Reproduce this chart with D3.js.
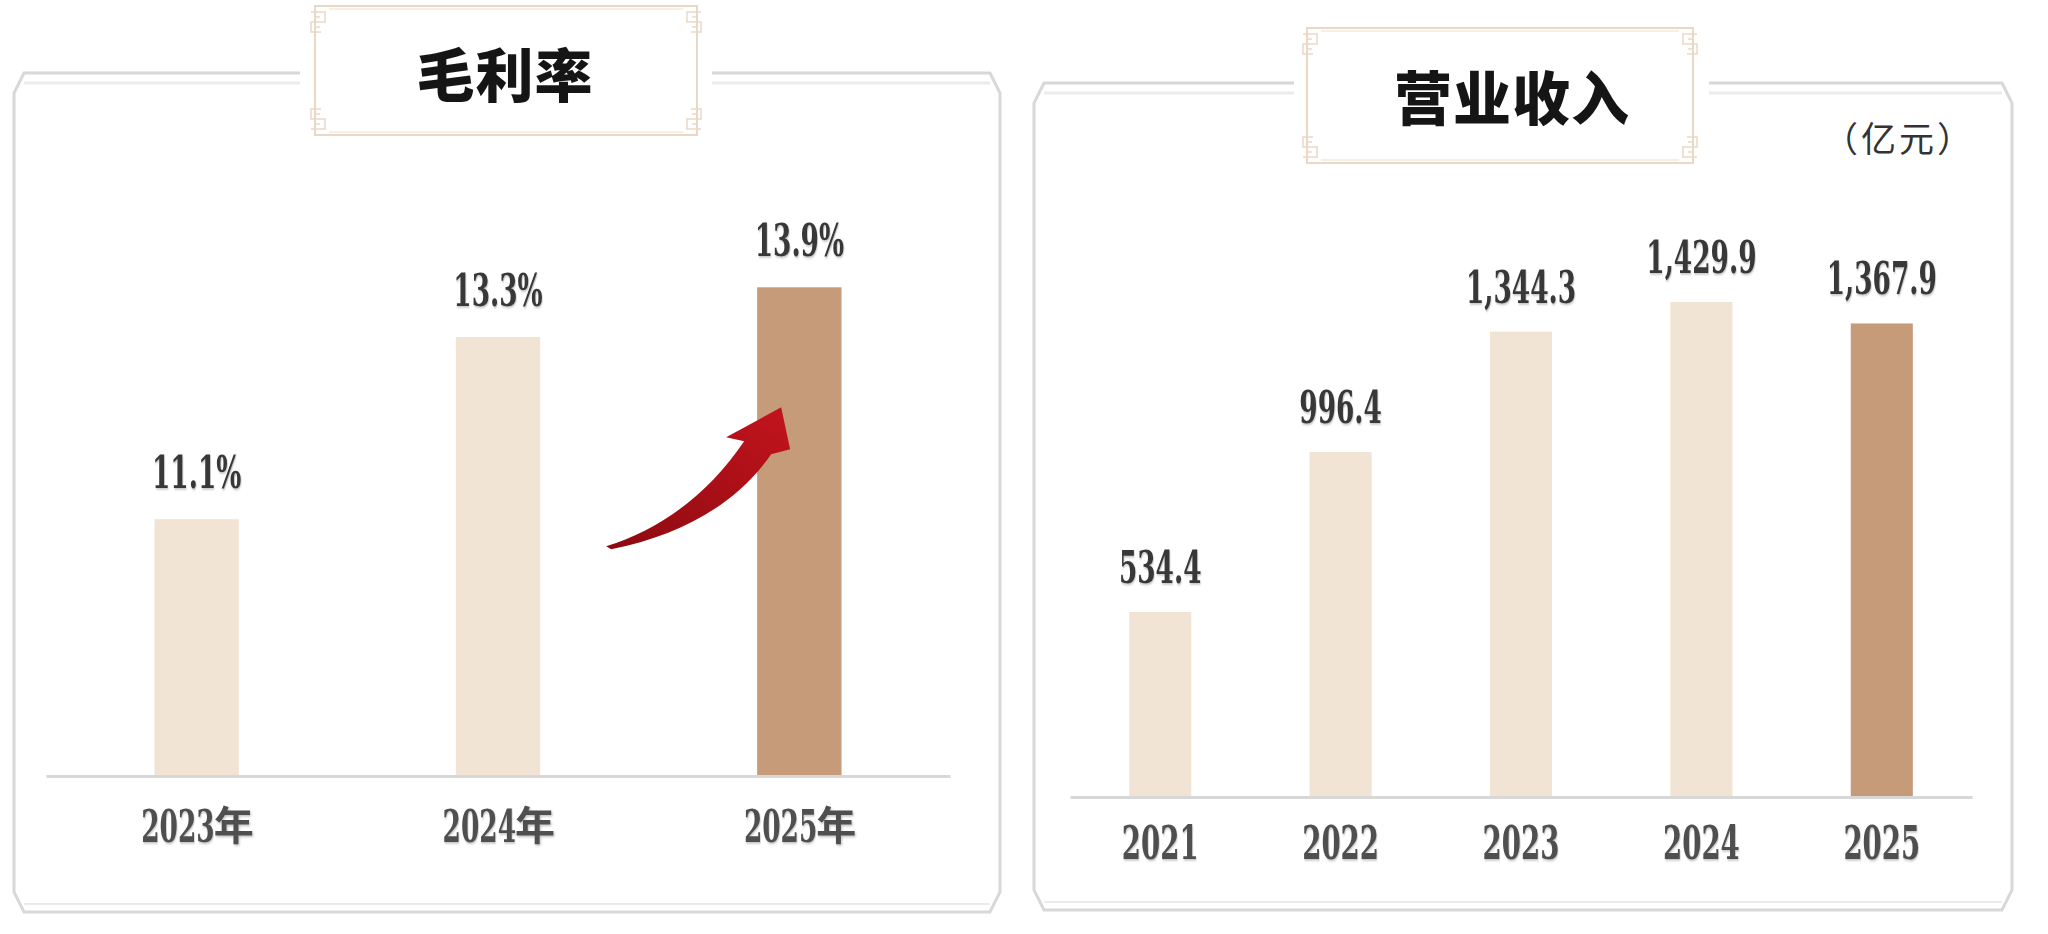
<!DOCTYPE html>
<html><head><meta charset="utf-8">
<script src="https://cdn.jsdelivr.net/npm/d3@7"></script>
<style>html,body{margin:0;padding:0;background:#fff;}svg{display:block;}</style>
</head><body>
<svg id="chart" width="2048" height="934"></svg>
<script>
// ---- data ----
const marginTitle = "毛利率";
const marginCats = ["2023年", "2024年", "2025年"];
const marginValues = [11.1, 13.3, 13.9];
const marginLabels = ["11.1%", "13.3%", "13.9%"];

const revenueTitle = "营业收入";
const revenueUnit = "（亿元）";
const revenueCats = ["2021", "2022", "2023", "2024", "2025"];
const revenueValues = [534.4, 996.4, 1344.3, 1429.9, 1367.9];
const revenueLabels = ["534.4", "996.4", "1,344.3", "1,429.9", "1,367.9"];

// ---- styles ----
const LIGHT = "#f1e4d5", DARK = "#c59b79";
const NUMFONT = "'DejaVu Serif', serif";
const CJK = "'Noto Sans CJK SC', sans-serif";
const FRAME = "#d8d8d8", FRAME2 = "#ebebeb", BOXLINE = "#ead8c6";

const svg = d3.select("#chart");
const defs = svg.append("defs");
const f = defs.append("filter").attr("id", "shadow").attr("x", "-10%").attr("y", "-20%").attr("width", "130%").attr("height", "150%");
f.append("feDropShadow").attr("dx", 1).attr("dy", 1.5).attr("stdDeviation", 1).attr("flood-color", "#888").attr("flood-opacity", 0.55);
const g = defs.append("linearGradient").attr("id", "arrowGrad").attr("x1", "0").attr("y1", "1").attr("x2", "1").attr("y2", "0");
g.append("stop").attr("offset", "0%").attr("stop-color", "#8c0a10");
g.append("stop").attr("offset", "100%").attr("stop-color", "#c3141e");

function frame(x0, x1, top, bottom, gapL, gapR) {
  const c = 10, cv = 20;
  const fr = svg.append("g");
  fr.append("path")
    .attr("d", `M${x0 + c},${top} L${x1 - c},${top} L${x1},${top + cv} L${x1},${bottom - cv} L${x1 - c},${bottom} L${x0 + c},${bottom} L${x0},${bottom - cv} L${x0},${top + cv} Z`)
    .attr("fill", "#fff").attr("stroke", FRAME).attr("stroke-width", 3);
  fr.append("line").attr("x1", x0 + c).attr("x2", x1 - c).attr("y1", top + 10).attr("y2", top + 10)
    .attr("stroke", FRAME2).attr("stroke-width", 3);
  fr.append("line").attr("x1", x0 + c).attr("x2", x1 - c).attr("y1", bottom - 8).attr("y2", bottom - 8)
    .attr("stroke", FRAME2).attr("stroke-width", 2);
  fr.append("rect").attr("x", gapL).attr("y", top - 6).attr("width", gapR - gapL).attr("height", 20).attr("fill", "#fff");
}

function titleBox(x0, x1, y0, y1, text, cx, cy) {
  const tb = svg.append("g");
  tb.append("rect").attr("x", x0).attr("y", y0).attr("width", x1 - x0).attr("height", y1 - y0)
    .attr("fill", "#fff").attr("stroke", BOXLINE).attr("stroke-width", 2);
  tb.append("line").attr("x1", x0 + 14).attr("x2", x1 - 14).attr("y1", y0 + 3).attr("y2", y0 + 3).attr("stroke", "#f4e9de").attr("stroke-width", 1.5);
  tb.append("line").attr("x1", x0 + 14).attr("x2", x1 - 14).attr("y1", y1 - 3).attr("y2", y1 - 3).attr("stroke", "#f4e9de").attr("stroke-width", 1.5);
  // corner meanders
  [[x0, 1], [x1, -1]].forEach(([sx, dir]) => {
    [[y0, 1], [y1, -1]].forEach(([sy, vd]) => {
      const p = d3.path();
      const ox = sx - dir * 4, oy = sy;
      p.moveTo(ox, oy + vd * 6);
      p.lineTo(ox + dir * 14, oy + vd * 6);
      p.lineTo(ox + dir * 14, oy + vd * 16);
      p.lineTo(ox, oy + vd * 16);
      p.lineTo(ox, oy + vd * 26);
      p.lineTo(ox + dir * 10, oy + vd * 26);
      p.moveTo(ox + dir * 4, oy + vd * 11);
      p.lineTo(ox + dir * 9, oy + vd * 11);
      p.moveTo(ox + dir * 4, oy + vd * 21);
      p.lineTo(ox + dir * 9, oy + vd * 21);
      tb.append("path").attr("d", p.toString()).attr("fill", "none").attr("stroke", BOXLINE).attr("stroke-width", 1.5);
    });
  });
  tb.append("text").attr("x", cx).attr("y", cy).attr("text-anchor", "middle").attr("dominant-baseline", "central")
    .attr("font-family", CJK).attr("font-weight", 900).attr("font-size", 58).attr("fill", "#151515")
    .attr("letter-spacing", 1).text(text);
}

function scaledText(sel, x, y, txt, size, fill, anchor) {
  return sel.append("text")
    .attr("transform", `translate(${x},${y}) scale(0.6,1)`)
    .attr("text-anchor", anchor || "middle")
    .attr("font-family", NUMFONT).attr("font-weight", "bold").attr("font-size", size)
    .attr("fill", fill).attr("filter", "url(#shadow)").text(txt);
}

// ---- frames and titles ----
frame(14, 1000, 73, 912, 300, 712);
frame(1034, 2012, 83, 910, 1294, 1709);
titleBox(315, 697, 6, 135, marginTitle, 505, 72);
titleBox(1307, 1693, 28, 163, revenueTitle, 1512, 95);

svg.append("text").attr("x", 1899).attr("y", 152).attr("text-anchor", "middle")
  .attr("font-family", CJK).attr("font-size", 35).attr("letter-spacing", 3).attr("fill", "#333").text(revenueUnit);

// ---- left chart: gross margin ----
const xL = d3.scaleBand().domain(marginCats).range([46, 950]).paddingInner(0.72).paddingOuter(0.36);
const yL = d3.scaleLinear().domain([8, 14]).range([776, 279]);
const left = svg.append("g");
left.selectAll("rect.bar").data(marginCats).join("rect").attr("class", "bar")
  .attr("x", d => xL(d)).attr("width", xL.bandwidth())
  .attr("y", (d, i) => yL(marginValues[i])).attr("height", (d, i) => yL(8) - yL(marginValues[i]))
  .attr("fill", (d, i) => i === marginCats.length - 1 ? DARK : LIGHT);
marginCats.forEach((c, i) => {
  scaledText(left, xL(c) + xL.bandwidth() / 2, yL(marginValues[i]) - 31, marginLabels[i], 44, "#383838");
});
const axL = left.append("g").attr("transform", `translate(0,${yL(8)})`)
  .call(d3.axisBottom(xL).tickSize(0).tickFormat(""));
axL.select(".domain").attr("stroke", FRAME).attr("stroke-width", 3);
axL.selectAll(".tick").each(function(d) {
  const t = d3.select(this);
  const num = d.replace("年", "");
  scaledText(t, 18, 66, num, 44, "#505050", "end");
  t.append("text").attr("x", 17).attr("y", 64).attr("text-anchor", "start")
    .attr("font-family", CJK).attr("font-weight", 700)
    .attr("font-size", 40).attr("fill", "#505050").attr("filter", "url(#shadow)").text("年");
});

// ---- arrow annotation (anchored to the 2025 bar) ----
{
  const last = marginCats[marginCats.length - 1];
  const bx = xL(last), by = yL(marginValues[marginValues.length - 1]);
  const ax = bx + 24, ay = by + 120; // arrow tip
  const p = d3.path();
  p.moveTo(ax - 175, ay + 139);
  p.bezierCurveTo(ax - 120, ay + 122, ax - 72, ay + 86, ax - 37, ay + 34);
  p.lineTo(ax - 55, ay + 30);
  p.lineTo(ax, ay);
  p.lineTo(ax + 9, ay + 42);
  p.lineTo(ax - 10, ay + 47);
  p.bezierCurveTo(ax - 45, ay + 97, ax - 100, ay + 128, ax - 170, ay + 142);
  p.closePath();
  left.append("path").attr("d", p.toString()).attr("fill", "url(#arrowGrad)");
}

// ---- right chart: revenue ----
const xR = d3.scaleBand().domain(revenueCats).range([1070, 1972]).paddingInner(0.656).paddingOuter(0.328);
const yR = d3.scaleLinear().domain([0, 1500]).range([797, 277.7]);
const right = svg.append("g");
right.selectAll("rect.bar").data(revenueCats).join("rect").attr("class", "bar")
  .attr("x", d => xR(d)).attr("width", xR.bandwidth())
  .attr("y", (d, i) => yR(revenueValues[i])).attr("height", (d, i) => yR(0) - yR(revenueValues[i]))
  .attr("fill", (d, i) => i === revenueCats.length - 1 ? DARK : LIGHT);
revenueCats.forEach((c, i) => {
  scaledText(right, xR(c) + xR.bandwidth() / 2, yR(revenueValues[i]) - 29, revenueLabels[i], 44, "#383838");
});
const axR = right.append("g").attr("transform", `translate(0,${yR(0)})`)
  .call(d3.axisBottom(xR).tickSize(0).tickFormat(""));
axR.select(".domain").attr("stroke", FRAME).attr("stroke-width", 3);
axR.selectAll(".tick").each(function(d) {
  scaledText(d3.select(this), 0, 62, d, 46, "#505050");
});
</script>
</body></html>
